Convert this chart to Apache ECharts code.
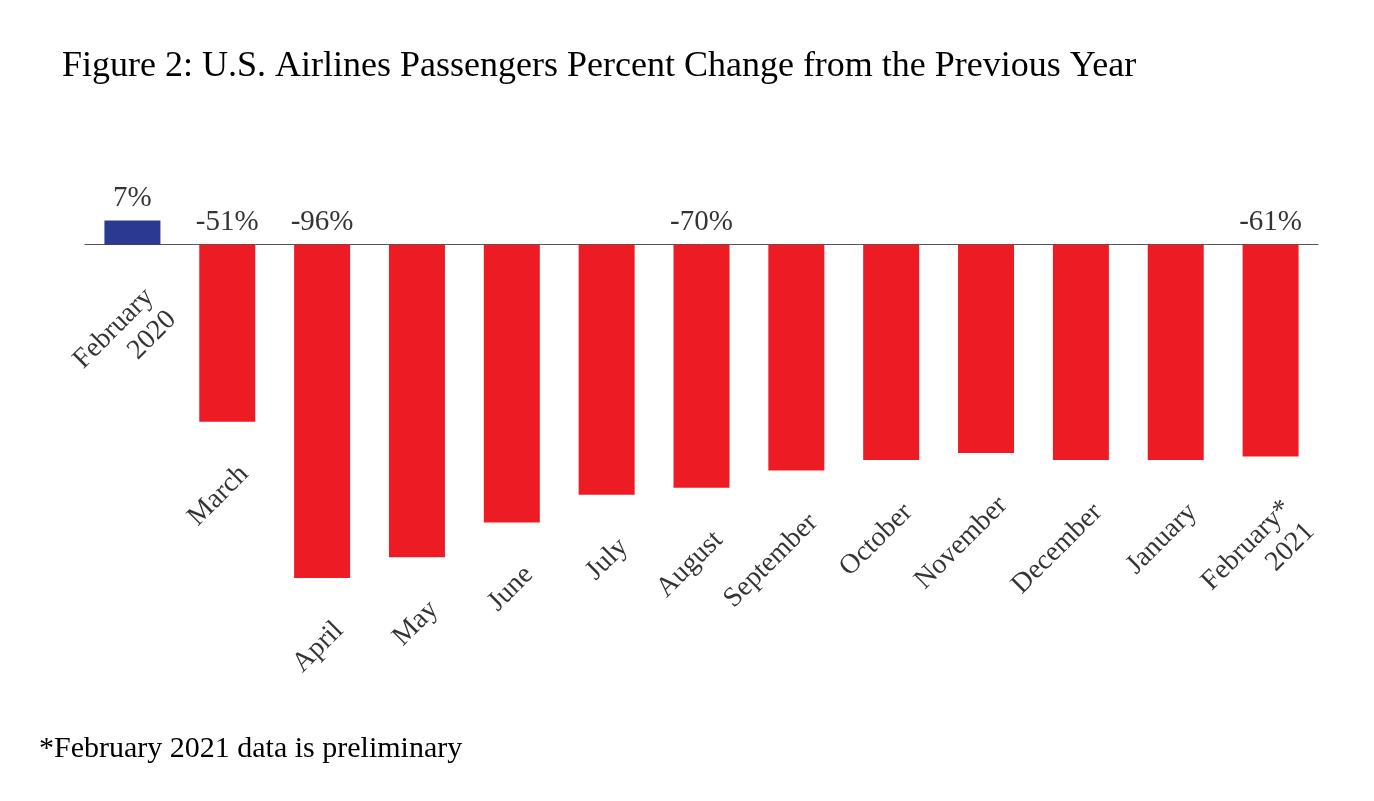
<!DOCTYPE html>
<html><head><meta charset="utf-8">
<script src="https://cdn.jsdelivr.net/npm/echarts@6/dist/echarts.min.js"></script>
<style>html,body{margin:0;padding:0;background:#fff}#c{width:1374px;height:801px}</style>
</head><body><div id="c"></div>
<script>
const categories = ['February\n2020','March','April','May','June','July','August','September','October','November','December','January','February*\n2021'];
const values = [7,-51,-96,-90,-80,-72,-70,-65,-62,-60,-62,-62,-61];
const labeled = [0,1,2,6,12];
const F = 'Liberation Serif, Times New Roman, serif';
const chart = echarts.init(document.getElementById('c'));
chart.setOption({
  animation:false,
  title:[{text:'Figure 2: U.S. Airlines Passengers Percent Change from the Previous Year',left:57,top:44,textStyle:{fontFamily:F,fontSize:36,fontWeight:'normal',color:'#000'}},
         {text:'*February 2021 data is preliminary',left:34,top:729,textStyle:{fontFamily:F,fontSize:30,fontWeight:'normal',color:'#000'}}],
  grid:{left:85,right:56,top:210,bottom:209},
  xAxis:{type:'category',data:categories,axisLine:{onZero:true,lineStyle:{color:'#555',width:1}},axisTick:{show:false},axisLabel:{show:false}},
  yAxis:{type:'value',min:-100,max:10,show:false,splitLine:{show:false}},
  series:[
    {type:'bar',barWidth:56,data:values.map(v=>({value:v,itemStyle:{color:v>=0?'#2B3990':'#ED1C24'}}))},
    {type:'scatter',symbolSize:0,silent:true,data:values.map((v,i)=>[i,Math.max(v,0)]),
     label:{show:true,position:'top',distance:8,fontFamily:F,fontSize:29,color:'#000',
       formatter:p=>labeled.includes(p.dataIndex)?values[p.dataIndex]+'%':''}},
    {type:'scatter',symbolSize:0,silent:true,data:values.map((v,i)=>[i,Math.min(v,0)]),
     label:{show:true,position:'bottom',distance:0,offset:[-22,30],rotate:45,align:'right',verticalAlign:'top',
       fontFamily:F,fontSize:28,color:'#000',lineHeight:32,
       formatter:p=>categories[p.dataIndex]}}
  ]
});
</script></body></html>
